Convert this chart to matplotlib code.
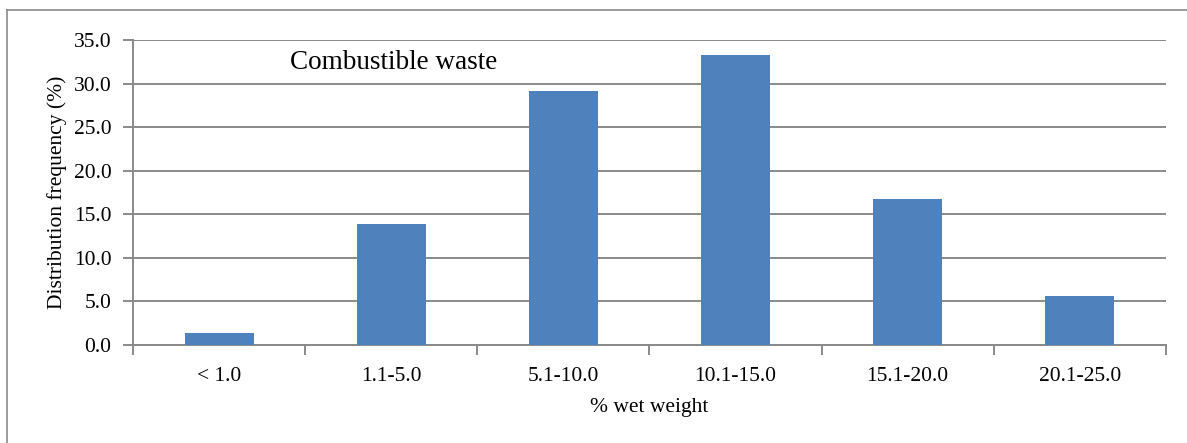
import numpy as np
import matplotlib
matplotlib.use("Agg")
import matplotlib.pyplot as plt
from matplotlib.lines import Line2D

# Distribution of combustible waste share (% wet weight)
categories = ["< 1.0", "1.1-5.0", "5.1-10.0", "10.1-15.0", "15.1-20.0", "20.1-25.0"]
frequency = [1.4, 13.9, 29.2, 33.3, 16.7, 5.6]
yticks = [0.0, 5.0, 10.0, 15.0, 20.0, 25.0, 30.0, 35.0]

plt.rcParams["font.family"] = ["Liberation Serif", "DejaVu Serif"]
GRID = "#8a8a8a"
BAR = "#4f81bd"
FS = 15.5

fig = plt.figure(figsize=(11.87, 4.43), dpi=100)
ax = fig.add_axes([0.1121, 0.2212, 0.870, 0.6885])

x = np.arange(len(categories))
ax.bar(x, frequency, width=0.4, color=BAR, zorder=3)

ax.set_xlim(-0.5, len(categories) - 0.5)
ax.set_ylim(0, 35)
ax.set_yticks(yticks)
ax.set_yticklabels([f"{v:.1f}" for v in yticks], fontsize=FS)
ax.yaxis.grid(True, color=GRID, linewidth=1.4, zorder=0)

ax.set_xticks(x)
ax.set_xticklabels(categories, fontsize=FS)
ax.set_xticks(np.arange(len(categories) + 1) - 0.5, minor=True)
ax.tick_params(axis="x", which="major", length=0, pad=15.5)
ax.tick_params(axis="x", which="minor", length=7, width=1.4, color=GRID)
ax.tick_params(axis="y", length=7, width=1.4, color=GRID, pad=8.5)

for side in ["top", "right"]:
    ax.spines[side].set_visible(False)
for side in ["left", "bottom"]:
    ax.spines[side].set_color(GRID)
    ax.spines[side].set_linewidth(1.4)

ax.set_xlabel("% wet weight", fontsize=FS, labelpad=9)
ax.set_ylabel("Distribution frequency (%)", fontsize=FS, labelpad=5)
ax.text(0.152, 0.905, "Combustible waste", transform=ax.transAxes,
        fontsize=19.5, va="baseline", ha="left")

# outer chart frame
fig.add_artist(Line2D([0.0059, 0.0059], [0.0, 0.9774], color=GRID, linewidth=1.2))
fig.add_artist(Line2D([0.0059, 1.0], [0.9774, 0.9774], color=GRID, linewidth=1.2))

fig.savefig("out.png", dpi=100)
